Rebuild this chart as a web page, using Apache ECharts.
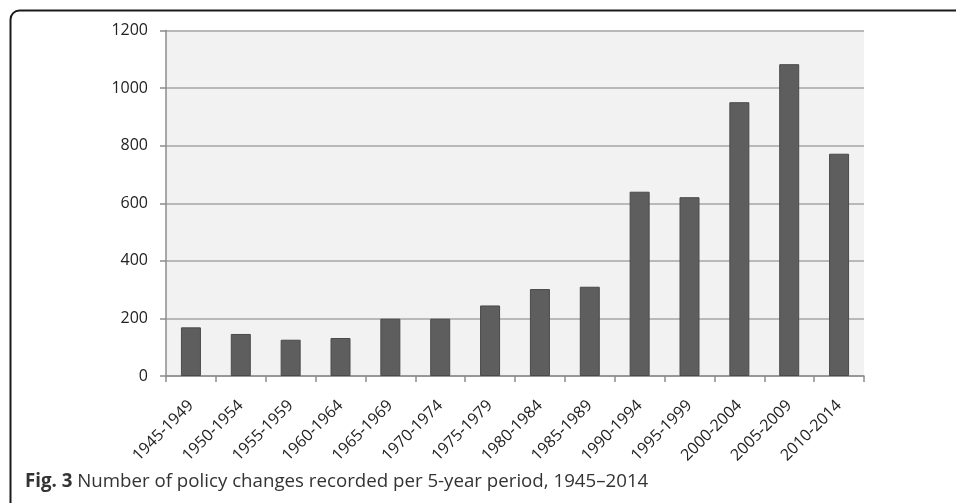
<!DOCTYPE html>
<html>
<head>
<meta charset="utf-8">
<script src="https://cdn.jsdelivr.net/npm/echarts@6/dist/echarts.min.js"></script>
<style>
html,body{margin:0;padding:0;background:#fff;}
#c{width:956px;height:503px;}
</style>
</head>
<body>
<div id="c"></div>
<script>
const categories = ['1945-1949','1950-1954','1955-1959','1960-1964','1965-1969','1970-1974','1975-1979','1980-1984','1985-1989','1990-1994','1995-1999','2000-2004','2005-2009','2010-2014'];
const policyChanges = [169, 146, 126, 132, 199, 199, 245, 302, 310, 640, 621, 951, 1083, 772];
const yTicks = [0, 200, 400, 600, 800, 1000, 1200];
const captionBold = 'Fig. 3';
const captionText = ' Number of policy changes recorded per 5-year period, 1945–2014';

const chart = echarts.init(document.getElementById('c'));
chart.setOption({
  animation: false,
  backgroundColor: '#ffffff',
  grid: {
    left: 166, right: 92, top: 30.5, bottom: 127,
    show: true, backgroundColor: '#f2f2f2', borderWidth: 0
  },
  xAxis: {
    type: 'category',
    data: categories,
    boundaryGap: true,
    axisLine: {show: true, lineStyle: {color: '#8c8c8c', width: 1.5}},
    axisTick: {show: true, alignWithLabel: false, length: 6, lineStyle: {color: '#8c8c8c', width: 1.5}},
    axisLabel: {
      rotate: 45, interval: 0, margin: 27,
      color: '#222', fontFamily: 'Open Sans', fontSize: 16
    }
  },
  yAxis: {
    type: 'value',
    min: yTicks[0], max: yTicks[yTicks.length - 1], interval: 200,
    axisLine: {show: true, lineStyle: {color: '#8c8c8c', width: 1.5}},
    axisTick: {show: true, length: 6, lineStyle: {color: '#8c8c8c', width: 1.5}},
    axisLabel: {margin: 18, color: '#222', fontFamily: 'Open Sans', fontSize: 16, formatter: v => String(v)},
    splitLine: {show: true, lineStyle: {color: '#a6a6a6', width: 1.5}}
  },
  series: [{
    type: 'bar',
    data: policyChanges,
    barWidth: 20,
    itemStyle: {color: '#5e5e5e', borderColor: '#4a4a4a', borderWidth: 1}
  }],
  graphic: [
    {
      type: 'rect', left: 8, top: 8, z: 100,
      shape: {width: 1000, height: 520, r: 9},
      style: {fill: 'none', stroke: '#1a1a1a', lineWidth: 2}
    },
    {
      type: 'text', left: 25, top: 472, z: 100,
      style: {
        text: '{b|' + captionBold + '}{n|' + captionText + '}',
        rich: {
          b: {fontFamily: 'Open Sans', fontSize: 18.7, fontWeight: 'bold', fill: '#333'},
          n: {fontFamily: 'Open Sans', fontSize: 18.7, fill: '#333'}
        }
      }
    }
  ]
});
</script>
</body>
</html>
